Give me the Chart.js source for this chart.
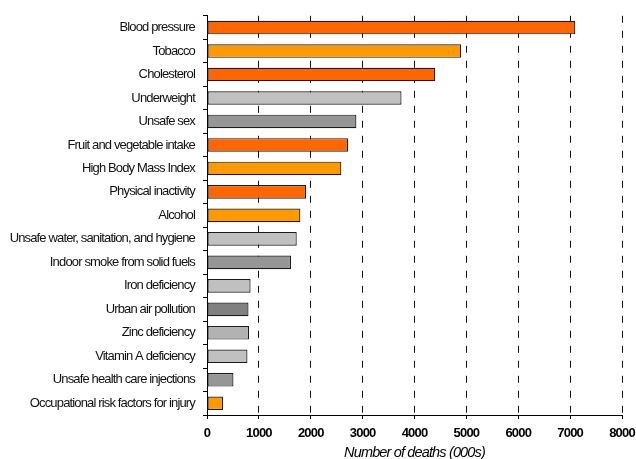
<!DOCTYPE html>
<html>
<head>
<meta charset="utf-8">
<script src="https://cdn.jsdelivr.net/npm/chart.js@4/dist/chart.umd.min.js"></script>
<style>
    html, body { margin: 0; padding: 0; background: #fff; }
    #wrap { width: 636px; height: 459px; }
</style>
</head>
<body>
<div id="wrap"><canvas id="risk-chart"></canvas></div>
<script>
// Risk factors, top to bottom
const riskFactors = [
    'Blood pressure',
    'Tobacco',
    'Cholesterol',
    'Underweight',
    'Unsafe sex',
    'Fruit and vegetable intake',
    'High Body Mass Index',
    'Physical inactivity',
    'Alcohol',
    'Unsafe water, sanitation, and hygiene',
    'Indoor smoke from solid fuels',
    'Iron deficiency',
    'Urban air pollution',
    'Zinc deficiency',
    'Vitamin A deficiency',
    'Unsafe health care injections',
    'Occupational risk factors for injury'
];

// Number of deaths (000s)
const deaths = [7100, 4900, 4400, 3750, 2880, 2720, 2590, 1910, 1800, 1730, 1620, 840, 800, 810, 780, 510, 310];

const barColors = [
    '#FF6600', '#FF9900', '#FF6600', '#C0C0C0', '#969696',
    '#FF6600', '#FF9900', '#FF6600', '#FF9900', '#C0C0C0',
    '#969696', '#C0C0C0', '#808080', '#B2B2B2', '#C0C0C0',
    '#969696', '#FF9900'
];

const xTicks = [0, 1000, 2000, 3000, 4000, 5000, 6000, 7000, 8000];

// narrow look of the original lettering
const tightText = {
    id: 'tightText',
    beforeDraw: function(chart) {
        chart.ctx.letterSpacing = '-0.85px';
    }
};

const ctx = document.getElementById('risk-chart').getContext('2d');
new Chart(ctx, {
    type: 'bar',
    data: {
        labels: riskFactors,
        datasets: [{
            data: deaths,
            backgroundColor: barColors,
            borderColor: '#1a1a1a',
            borderWidth: 1.2,
            borderSkipped: false,
            barPercentage: 0.58,
            categoryPercentage: 1
        }]
    },
    options: {
        indexAxis: 'y',
        responsive: true,
        maintainAspectRatio: false,
        animation: false,
        layout: {
            padding: { top: 14, right: 14, bottom: 0, left: 0 }
        },
        scales: {
            x: {
                min: 0,
                max: 8000,
                afterBuildTicks: function(scale) {
                    scale.ticks = xTicks.map(v => ({ value: v }));
                },
                afterFit: function(scale) {
                    scale.height = 44;
                    scale.paddingLeft = 0;
                    scale.paddingRight = 0;
                },
                grid: {
                    color: c => (c.tick && c.tick.value === 0) ? 'rgba(0,0,0,0)' : '#111111',
                    tickColor: '#000000',
                    tickLength: 4,
                    lineWidth: 1
                },
                border: {
                    display: true,
                    color: '#000000',
                    dash: [7, 8]
                },
                ticks: {
                    color: '#000000',
                    padding: 7,
                    maxRotation: 0,
                    callback: v => String(v),
                    font: { family: 'Liberation Sans, Arial, sans-serif', size: 13, weight: 'bold' }
                },
                title: {
                    display: true,
                    text: 'Number of deaths (000s)',
                    color: '#000000',
                    padding: { top: 5, bottom: 0 },
                    font: { family: 'Liberation Sans, Arial, sans-serif', size: 14.5, style: 'italic', lineHeight: 0.9 }
                }
            },
            y: {
                afterFit: function(scale) {
                    scale.width = 207;
                },
                grid: {
                    drawOnChartArea: false,
                    offset: true,
                    tickLength: 4,
                    tickColor: '#000000'
                },
                border: {
                    display: true,
                    color: '#000000'
                },
                ticks: {
                    color: '#111111',
                    padding: 8,
                    font: { family: 'Liberation Sans, Arial, sans-serif', size: 13 }
                }
            }
        },
        plugins: {
            legend: { display: false },
            tooltip: { enabled: false }
        }
    },
    plugins: [tightText]
});
</script>
</body>
</html>
